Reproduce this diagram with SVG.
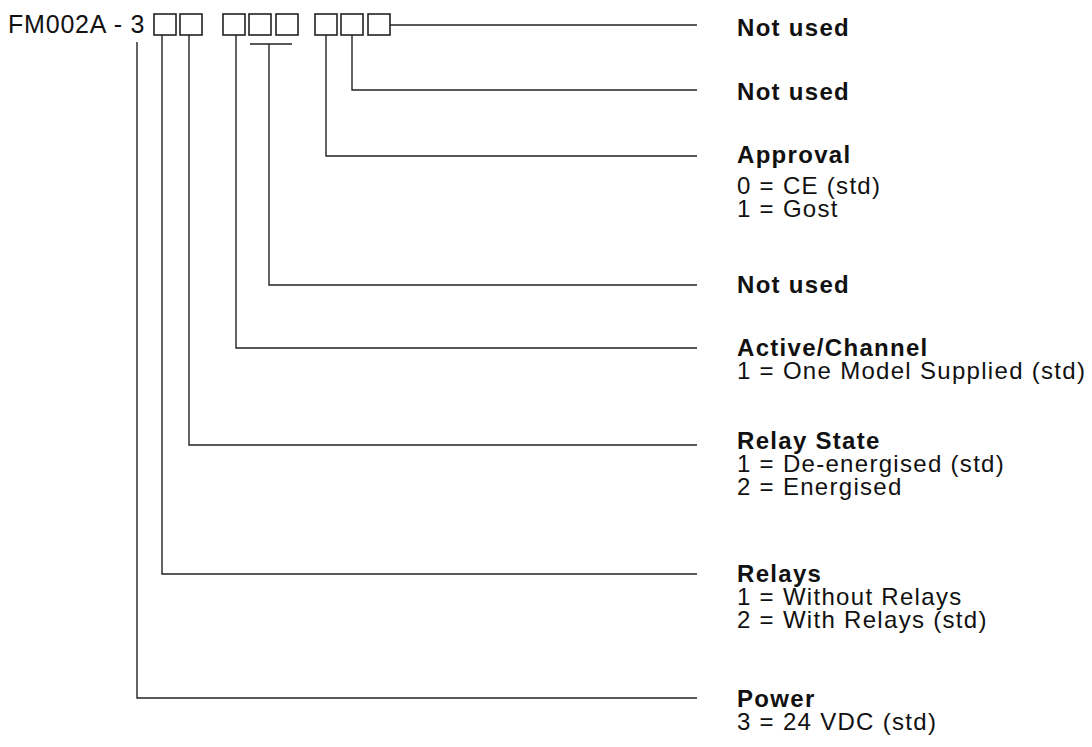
<svg xmlns="http://www.w3.org/2000/svg" width="1092" height="747" viewBox="0 0 1092 747">
<style>
text{font-family:"Liberation Sans",Arial,Helvetica,sans-serif;font-size:24px;fill:#111;letter-spacing:1.3px}
.t{font-size:25px;letter-spacing:0.8px}
.h{font-weight:bold}
.box{fill:none;stroke:#222;stroke-width:1.6}
.ln{fill:none;stroke:#222;stroke-width:1.4}
</style>
<rect width="1092" height="747" fill="#fff"/>
<g id="code">
<text class="t" x="8" y="33">FM002A - 3</text>
<rect class="box" x="154" y="14" width="22" height="21"/>
<rect class="box" x="180" y="14" width="22" height="21"/>
<rect class="box" x="223" y="14" width="22" height="21"/>
<rect class="box" x="249" y="14" width="22" height="21"/>
<rect class="box" x="276" y="14" width="22" height="21"/>
<rect class="box" x="315" y="14" width="22" height="21"/>
<rect class="box" x="341" y="14" width="22" height="21"/>
<rect class="box" x="368" y="14" width="22" height="21"/>
</g>
<g id="connectors">
<polyline class="ln" points="390,25 697,25"/>
<polyline class="ln" points="352,35 352,90 697,90"/>
<polyline class="ln" points="326,35 326,156 697,156"/>
<polyline class="ln" points="250,44 292,44"/>
<polyline class="ln" points="269,44 269,285 697,285"/>
<polyline class="ln" points="236,35 236,348 697,348"/>
<polyline class="ln" points="189,35 189,445 697,445"/>
<polyline class="ln" points="162,35 162,574 697,574"/>
<polyline class="ln" points="137,42 137,698 697,698"/>
</g>
<g id="label-notused1"><text class="h" x="737" y="36">Not used</text></g>
<g id="label-notused2"><text class="h" x="737" y="100">Not used</text></g>
<g id="label-approval">
<text class="h" x="737" y="163">Approval</text>
<text x="737" y="194">0 = CE (std)</text>
<text x="737" y="217">1 = Gost</text>
</g>
<g id="label-notused3"><text class="h" x="737" y="293">Not used</text></g>
<g id="label-active">
<text class="h" x="737" y="356">Active/Channel</text>
<text x="737" y="379">1 = One Model Supplied (std)</text>
</g>
<g id="label-relaystate">
<text class="h" x="737" y="449">Relay State</text>
<text x="737" y="472">1 = De-energised (std)</text>
<text x="737" y="495">2 = Energised</text>
</g>
<g id="label-relays">
<text class="h" x="737" y="582">Relays</text>
<text x="737" y="605">1 = Without Relays</text>
<text x="737" y="628">2 = With Relays (std)</text>
</g>
<g id="label-power">
<text class="h" x="737" y="707">Power</text>
<text x="737" y="730">3 = 24 VDC (std)</text>
</g>
</svg>
